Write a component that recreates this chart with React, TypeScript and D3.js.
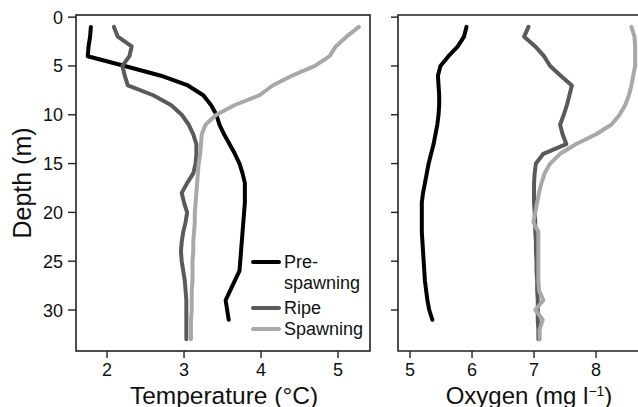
import React from "react";
import * as d3 from "d3";

const depths = Array.from({ length: 33 }, (_, i) => i + 1);

const tempPre = [1.79, 1.78, 1.76, 1.75, 2.23, 2.7, 3.05, 3.25, 3.35, 3.42, 3.46, 3.52, 3.59, 3.66, 3.72, 3.76, 3.79, 3.79, 3.79, 3.78, 3.77, 3.76, 3.75, 3.74, 3.73, 3.72, 3.66, 3.6, 3.54, 3.56, 3.58];
const tempRipe = [2.09, 2.14, 2.32, 2.29, 2.2, 2.23, 2.27, 2.6, 2.83, 2.97, 3.06, 3.12, 3.16, 3.16, 3.15, 3.12, 3.04, 2.97, 3.0, 3.04, 3.02, 2.99, 2.97, 2.96, 2.97, 2.99, 3.01, 3.02, 3.03, 3.03, 3.03, 3.03, 3.03];
const tempSpawn = [5.27, 5.11, 4.97, 4.89, 4.7, 4.4, 4.15, 3.98, 3.66, 3.42, 3.28, 3.23, 3.22, 3.21, 3.19, 3.18, 3.17, 3.16, 3.15, 3.14, 3.14, 3.13, 3.12, 3.12, 3.11, 3.11, 3.11, 3.1, 3.1, 3.1, 3.09, 3.09, 3.09];

const oxyPre = [5.91, 5.87, 5.77, 5.62, 5.49, 5.45, 5.46, 5.47, 5.47, 5.46, 5.44, 5.41, 5.38, 5.34, 5.3, 5.27, 5.24, 5.21, 5.19, 5.19, 5.19, 5.19, 5.2, 5.21, 5.22, 5.23, 5.24, 5.26, 5.28, 5.31, 5.36];
const oxyRipe = [6.91, 6.84, 7.02, 7.16, 7.26, 7.43, 7.61, 7.57, 7.53, 7.48, 7.42, 7.46, 7.52, 7.15, 7.03, 7.01, 7.0, 7.0, 7.0, 7.01, 7.02, 7.02, 7.03, 7.03, 7.04, 7.04, 7.05, 7.05, 7.06, 7.06, 7.06, 7.07, 7.07];
const oxySpawn = [8.57, 8.62, 8.63, 8.63, 8.63, 8.6, 8.57, 8.53, 8.47, 8.38, 8.25, 8.0, 7.68, 7.42, 7.26, 7.17, 7.12, 7.08, 7.05, 7.02, 6.99, 7.07, 7.07, 7.07, 7.07, 7.07, 7.07, 7.08, 7.15, 7.02, 7.14, 7.09, 7.09];

const seriesNames = ["Pre-spawning", "Ripe", "Spawning"];
const seriesColors = ["#000000", "#5a5a5a", "#a8a8a8"];
const depthTicks = [0, 5, 10, 15, 20, 25, 30];
const tempTicks = [2, 3, 4, 5];
const oxyTicks = [5, 6, 7, 8];

const FONT = "'Liberation Sans', Arial, Helvetica, sans-serif";

export default function App() {
  const top = 15, bottom = 351;
  const y = d3.scaleLinear().domain([-0.22, 34.2]).range([top, bottom]);
  const xT = d3.scaleLinear().domain([1.597, 5.415]).range([76, 370]);
  const xO = d3.scaleLinear().domain([4.806, 8.87]).range([398, 650]);

  const tempSeries = [tempPre, tempRipe, tempSpawn];
  const oxySeries = [oxyPre, oxyRipe, oxySpawn];

  const lineT = (vals: number[]) =>
    d3.line<number>().x((v) => xT(v)).y((_, i) => y(depths[i])).curve(d3.curveLinear)(vals) || "";
  const lineO = (vals: number[]) =>
    d3.line<number>().x((v) => xO(v)).y((_, i) => y(depths[i])).curve(d3.curveLinear)(vals) || "";

  const frame = "#222";
  const fs = 18;

  return (
    <svg width={638} height={407} style={{ position: "absolute", left: 0, top: 0, background: "#fff" }} fontFamily={FONT}>
      <rect width={638} height={407} fill="#fff" />
      {tempSeries.map((s, k) => (
        <path key={"t" + k} d={lineT(s)} fill="none" stroke={seriesColors[k]} strokeWidth={4} strokeLinejoin="round" strokeLinecap="round" />
      ))}
      {oxySeries.map((s, k) => (
        <path key={"o" + k} d={lineO(s)} fill="none" stroke={seriesColors[k]} strokeWidth={4} strokeLinejoin="round" strokeLinecap="round" />
      ))}

      <rect x={76} y={top} width={294} height={bottom - top} fill="none" stroke={frame} strokeWidth={1.6} />
      <path d={`M650,${top}H398V${bottom}H650`} fill="none" stroke={frame} strokeWidth={1.6} />

      {depthTicks.map((t) => (
        <g key={"yl" + t}>
          <line x1={68} x2={76} y1={y(t)} y2={y(t)} stroke={frame} strokeWidth={1.4} />
          <text x={63} y={y(t) + 6.5} textAnchor="end" fontSize={fs} fill="#111">{t}</text>
        </g>
      ))}
      {depthTicks.map((t) => (
        <line key={"yr" + t} x1={391} x2={398} y1={y(t)} y2={y(t)} stroke={frame} strokeWidth={1.4} />
      ))}
      {tempTicks.map((t) => (
        <g key={"xt" + t}>
          <line x1={xT(t)} x2={xT(t)} y1={bottom} y2={bottom + 7} stroke={frame} strokeWidth={1.4} />
          <text x={xT(t)} y={376} textAnchor="middle" fontSize={fs} fill="#111">{t}</text>
        </g>
      ))}
      {oxyTicks.map((t) => (
        <g key={"xo" + t}>
          <line x1={xO(t)} x2={xO(t)} y1={bottom} y2={bottom + 7} stroke={frame} strokeWidth={1.4} />
          <text x={xO(t)} y={376} textAnchor="middle" fontSize={fs} fill="#111">{t}</text>
        </g>
      ))}

      <text x={224} y={403.5} textAnchor="middle" fontSize={24.5} fill="#111">Temperature (°C)</text>
      <text x={529} y={403.5} textAnchor="middle" fontSize={24} fill="#111">
        Oxygen (mg l<tspan fontSize={14} dy={-8}>−1</tspan><tspan dy={8}>)</tspan>
      </text>
      <text transform={`translate(31,${(top + bottom) / 2}) rotate(-90)`} textAnchor="middle" fontSize={25} fill="#111">Depth (m)</text>

      <line x1={253} x2={279} y1={262} y2={262} stroke={seriesColors[0]} strokeWidth={4} strokeLinecap="round" />
      <text x={284} y={268} fontSize={fs} fill="#111">Pre-</text>
      <text x={284} y={289} fontSize={fs} fill="#111">spawning</text>
      <line x1={253} x2={279} y1={308} y2={308} stroke={seriesColors[1]} strokeWidth={4} strokeLinecap="round" />
      <text x={284} y={314} fontSize={fs} fill="#111">{seriesNames[1]}</text>
      <line x1={253} x2={279} y1={329} y2={329} stroke={seriesColors[2]} strokeWidth={4} strokeLinecap="round" />
      <text x={284} y={335} fontSize={fs} fill="#111">{seriesNames[2]}</text>
    </svg>
  );
}
